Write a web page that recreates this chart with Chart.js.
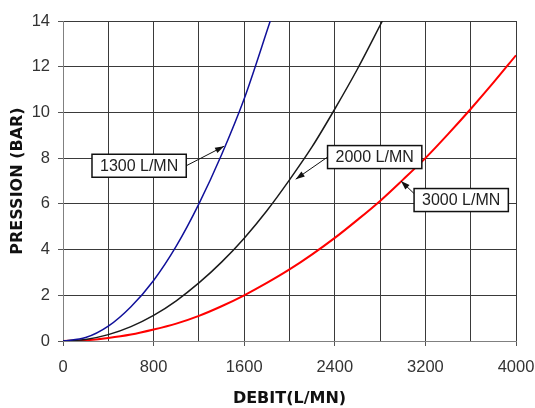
<!DOCTYPE html>
<html>
<head>
<meta charset="utf-8">
<script src="https://cdn.jsdelivr.net/npm/chart.js@4/dist/chart.umd.min.js"></script>
<style>
  body { margin: 0; background: #fff; }
  #wrap { width: 535px; height: 408px; position: relative; }
</style>
</head>
<body>
<div id="wrap"><canvas id="courbes"></canvas></div>
<script>
// valeurs (débit L/MN -> pression BAR)
const debit1300 = [0, 200, 400, 600, 800, 1000, 1200, 1400, 1600, 1830];
const pression1300 = [0, 0.15, 0.65, 1.5, 2.65, 4.15, 6, 8.15, 10.6, 14];

const debit2000 = [0, 200, 400, 600, 800, 1000, 1200, 1400, 1600, 1800, 2000, 2200, 2400, 2600, 2820];
const pression2000 = [0, 0.07, 0.28, 0.63, 1.12, 1.76, 2.54, 3.45, 4.5, 5.7, 7.05, 8.5, 10.15, 11.9, 14];

const debit3000 = [0, 200, 400, 600, 800, 1000, 1200, 1400, 1600, 1800, 2000, 2200, 2400, 2600, 2800, 3000, 3200, 3400, 3600, 3800, 4000];
const pression3000 = [0, 0.03, 0.13, 0.28, 0.5, 0.76, 1.1, 1.52, 2.0, 2.54, 3.13, 3.79, 4.51, 5.3, 6.13, 7.05, 8.0, 9.05, 10.15, 11.3, 12.5];

const etiquettes = ['1300 L/MN', '2000 L/MN', '3000 L/MN'];

function points(xs, ys) {
    return xs.map((x, i) => ({ x: x, y: ys[i] }));
}

// étiquettes encadrées avec flèche vers la courbe
const reperes = [
    { texte: etiquettes[0], boite: [256, 8.17], queue: 'droite', pointe: [1422, 8.52] },
    { texte: etiquettes[1], boite: [2336, 8.55], queue: 'gauche', pointe: [2055, 7.08] },
    { texte: etiquettes[2], boite: [3100, 6.67], queue: 'gauche', pointe: [2984, 7.0] }
];

const pluginReperes = {
    id: 'reperes',
    afterDatasetsDraw(chart) {
        const ctx = chart.ctx;
        const sx = chart.scales.x, sy = chart.scales.y;
        ctx.save();
        ctx.font = '16px "Liberation Sans", Arial, sans-serif';
        reperes.forEach(r => {
            const w = ctx.measureText(r.texte).width + 16;
            const h = 23;
            const bx = sx.getPixelForValue(r.boite[0]);
            const by = sy.getPixelForValue(r.boite[1]);
            const px = sx.getPixelForValue(r.pointe[0]);
            const py = sy.getPixelForValue(r.pointe[1]);
            let qx, qy;
            if (r.queue === 'droite') { qx = bx + w; qy = by + h / 2; }
            else if (by > py + 5) { qx = bx; qy = by + 5; }
            else { qx = bx; qy = by + h / 2; }

            // flèche
            ctx.strokeStyle = '#111';
            ctx.fillStyle = '#111';
            ctx.lineWidth = 1;
            ctx.beginPath();
            ctx.moveTo(qx, qy);
            ctx.lineTo(px, py);
            ctx.stroke();
            const a = Math.atan2(py - qy, px - qx);
            ctx.beginPath();
            ctx.moveTo(px, py);
            ctx.lineTo(px - 9 * Math.cos(a) + 3 * Math.sin(a), py - 9 * Math.sin(a) - 3 * Math.cos(a));
            ctx.lineTo(px - 9 * Math.cos(a) - 3 * Math.sin(a), py - 9 * Math.sin(a) + 3 * Math.cos(a));
            ctx.closePath();
            ctx.fill();

            // boîte
            ctx.fillStyle = '#fff';
            ctx.fillRect(bx, by, w, h);
            ctx.lineWidth = 1.5;
            ctx.strokeRect(bx, by, w, h);
            ctx.fillStyle = '#222';
            ctx.textBaseline = 'middle';
            ctx.fillText(r.texte, bx + 8, by + h / 2 + 1);
        });
        ctx.restore();
    }
};

const ctx = document.getElementById('courbes').getContext('2d');
const graphe = new Chart(ctx, {
    type: 'line',
    data: {
        datasets: [
            { label: etiquettes[0], data: points(debit1300, pression1300), borderColor: '#10109a', borderWidth: 1.5 },
            { label: etiquettes[1], data: points(debit2000, pression2000), borderColor: '#1a1a1a', borderWidth: 1.5 },
            { label: etiquettes[2], data: points(debit3000, pression3000), borderColor: '#ff0000', borderWidth: 2 }
        ]
    },
    options: {
        responsive: true,
        maintainAspectRatio: false,
        animation: false,
        parsing: false,
        elements: {
            point: { radius: 0 },
            line: { cubicInterpolationMode: 'monotone', fill: false }
        },
        layout: { padding: { top: 21, right: 19, left: 0, bottom: 0 } },
        plugins: {
            legend: { display: false },
            tooltip: { enabled: false }
        },
        scales: {
            x: {
                type: 'linear',
                min: 0,
                max: 4000,
                afterFit: s => { s.height = 67; s.paddingLeft = 0; s.paddingRight = 0; },
                ticks: {
                    stepSize: 400,
                    padding: 12,
                    color: '#333',
                    maxRotation: 0,
                    autoSkip: false,
                    font: { family: '"Liberation Sans", Arial', size: 16.5 },
                    callback: v => (v % 800 === 0 ? v : '')
                },
                grid: {
                    color: '#3a3a3a',
                    tickLength: 5,
                    tickColor: c => (c.tick && c.tick.value % 800 === 0 ? '#555' : 'rgba(0,0,0,0)')
                },
                border: { color: '#808080' },
                title: {
                    display: true,
                    text: 'DEBIT(L/MN)',
                    color: '#111',
                    padding: { top: 0, bottom: 0 },
                    font: { family: '"DejaVu Sans"', size: 16, weight: 'bold' }
                }
            },
            y: {
                min: 0,
                max: 14,
                afterFit: s => { s.width = 63; s.paddingTop = 0; s.paddingBottom = 0; },
                ticks: {
                    stepSize: 2,
                    padding: 8,
                    color: '#333',
                    font: { family: '"Liberation Sans", Arial', size: 16.5 }
                },
                grid: { color: '#3a3a3a', tickLength: 5, tickColor: '#555' },
                border: { color: '#808080' },
                title: {
                    display: true,
                    text: 'PRESSION (BAR)',
                    color: '#111',
                    padding: { top: 8, bottom: 0 },
                    font: { family: '"DejaVu Sans"', size: 16, weight: 'bold' }
                }
            }
        }
    },
    plugins: [pluginReperes]
});
</script>
</body>
</html>
